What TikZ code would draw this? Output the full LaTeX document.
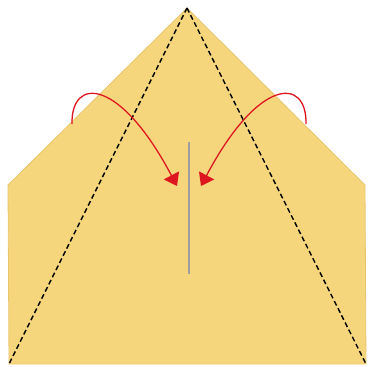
\documentclass[tikz,border=0pt]{standalone}
\usetikzlibrary{arrows.meta}
\definecolor{paper}{RGB}{245,214,124}
\definecolor{foldred}{RGB}{221,22,32}
\tikzset{
  fold/.style={dash pattern=on 5pt off 3pt,line width=1.4pt},
  turn/.style={foldred,line width=1.3pt,-{Triangle[length=12pt,width=17pt]}},
}
\begin{document}
\begin{tikzpicture}[x=1pt,y=-1pt]
  \useasboundingbox (0,0) rectangle (370,367);
  \coordinate (top) at (187,8);
  \coordinate (ls) at (8,185);
  \coordinate (rs) at (365,185);
  \coordinate (bl) at (9,364);
  \coordinate (br) at (366,364);
  \fill[paper,draw=paper!80!brown,line width=0.8pt] (top)--(rs)--(br)--(bl)--(ls)--cycle;
  \draw[fold] (top)--(bl);
  \draw[fold] (top)--(br);
  % crease line in the middle
  \coordinate (c1) at (189,142);
  \coordinate (c2) at (189,274);
  \draw[gray!75,line width=1.3pt] (c1)--(c2);
  % fold arrows
  \coordinate (a1) at (72,124);
  \coordinate (a2) at (177,186);
  \draw[turn] (a1) .. controls (71,76) and (120,78) .. (a2);
  \coordinate (b1) at (306,124);
  \coordinate (b2) at (201,186);
  \draw[turn] (b1) .. controls (307,76) and (258,78) .. (b2);
\end{tikzpicture}
\end{document}
